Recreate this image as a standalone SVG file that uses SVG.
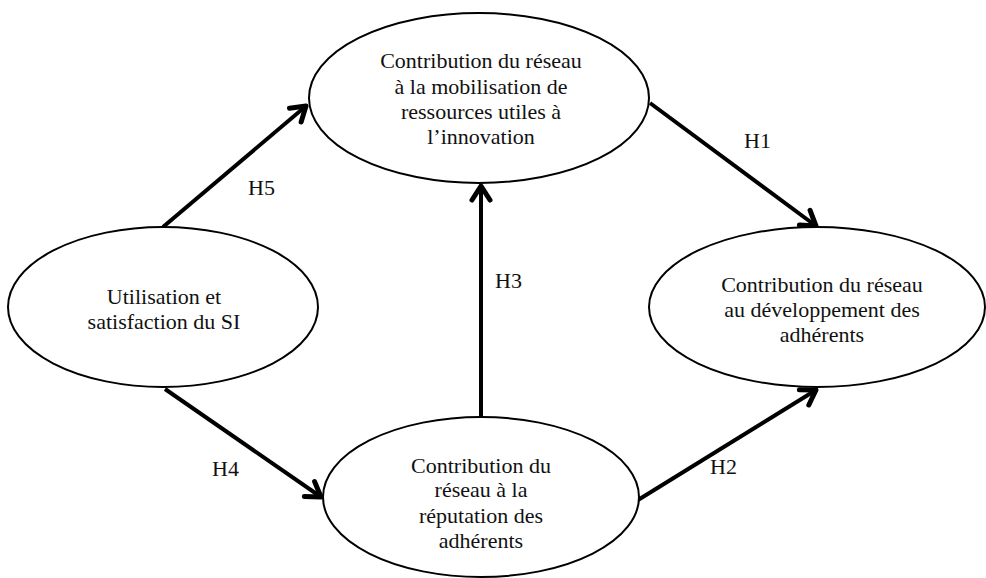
<svg xmlns="http://www.w3.org/2000/svg" width="986" height="578" viewBox="0 0 986 578">
<style>
.node ellipse{fill:#fff;stroke:#000;stroke-width:2}
text{font-family:"Liberation Serif","Times New Roman",serif;font-size:22px;fill:#111}
.node text{text-anchor:middle}
.conn line{stroke:#000;stroke-width:4;marker-end:url(#ah)}
</style>
<defs>
<marker id="ah" markerUnits="userSpaceOnUse" viewBox="-20 -14 26 28" markerWidth="26" markerHeight="28" refX="0" refY="0" orient="auto" overflow="visible">
<path d="M-14,-9 L0,0 L-14,9" fill="none" stroke="#000" stroke-width="5" stroke-linecap="round" stroke-linejoin="round"/>
</marker>
</defs>
<rect width="986" height="578" fill="#fff"/>
<g class="conn" id="connectors">
<line x1="163" y1="227" x2="306" y2="106"/>
<line x1="650" y1="103" x2="816" y2="226"/>
<line x1="165" y1="389" x2="321" y2="497"/>
<line x1="638" y1="500" x2="816" y2="390"/>
<line x1="481" y1="418" x2="481" y2="186"/>
<text x="248" y="195">H5</text>
<text x="744" y="148">H1</text>
<text x="212" y="476">H4</text>
<text x="710" y="474">H2</text>
<text x="495" y="288">H3</text>
</g>
<g class="node" id="mobilisation">
<ellipse cx="479" cy="98" rx="170" ry="85"/>
<text x="481" y="68">Contribution du réseau</text>
<text x="481" y="94">à la mobilisation de</text>
<text x="481" y="119">ressources utiles à</text>
<text x="481" y="144">l’innovation</text>
</g>
<g class="node" id="utilisation">
<ellipse cx="163" cy="307" rx="155" ry="80"/>
<text x="164" y="304">Utilisation et</text>
<text x="164" y="329">satisfaction du SI</text>
</g>
<g class="node" id="developpement">
<ellipse cx="817" cy="307" rx="168" ry="80"/>
<text x="822" y="292">Contribution du réseau</text>
<text x="822" y="317">au développement des</text>
<text x="822" y="342">adhérents</text>
</g>
<g class="node" id="reputation">
<ellipse cx="481" cy="497" rx="158" ry="80"/>
<text x="481" y="473">Contribution du</text>
<text x="481" y="497">réseau à la</text>
<text x="481" y="523">réputation des</text>
<text x="481" y="548">adhérents</text>
</g>
</svg>
